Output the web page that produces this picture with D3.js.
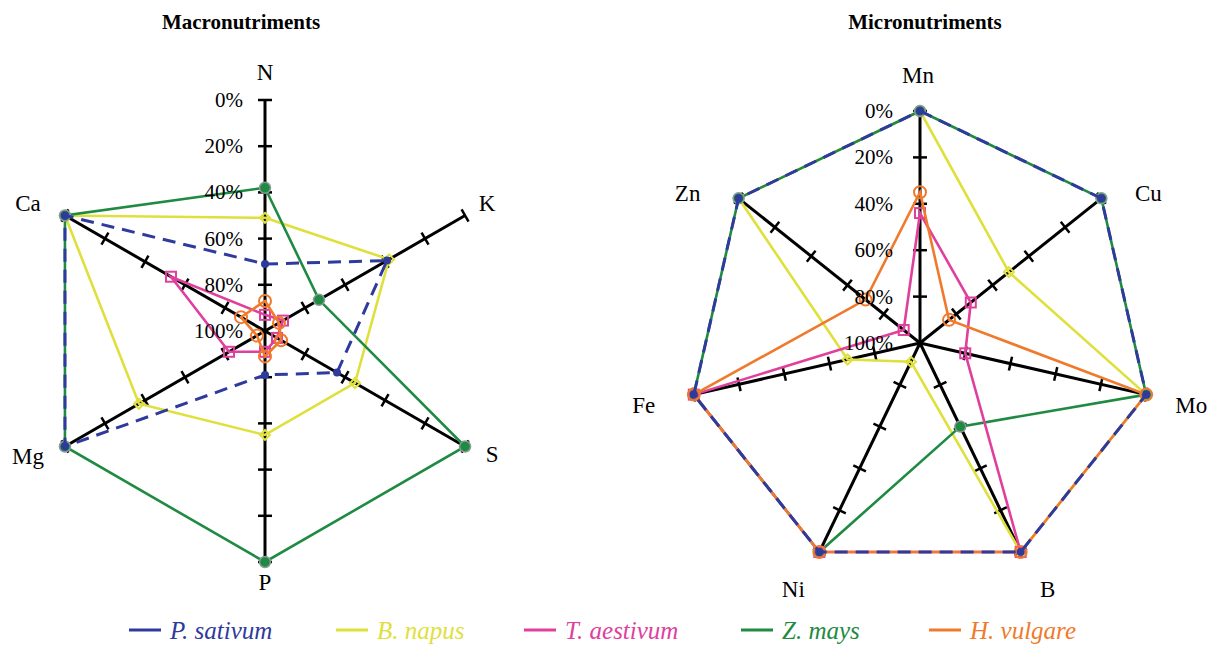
<!DOCTYPE html>
<html>
<head>
<meta charset="utf-8">
<script src="https://cdn.jsdelivr.net/npm/d3@7"></script>
<style>
    body { margin: 0; background: #fff; }
</style>
</head>
<body>
<svg id="chart" width="1215" height="662"></svg>
<script>

var macroAxes = ["N", "K", "S", "P", "Mg", "Ca"];
var microAxes = ["Mn", "Cu", "Mo", "B", "Ni", "Fe", "Zn"];
var tickLabels = ["0%", "20%", "40%", "60%", "80%", "100%"];
var tickValues = [0, 20, 40, 60, 80, 100];
var species = ["P. sativum", "B. napus", "T. aestivum", "Z. mays", "H. vulgare"];
var colors = ["#2e3a9c", "#dfe03c", "#e0409c", "#1f8a42", "#f07a2c"];

// values (0% = outer ring, 100% = centre)
var macroSativum  = [71, 39, 64, 81, 0, 0];
var macroNapus    = [51, 38, 55, 55, 37, 0];
var macroAestivum = [93, 91, 94, 91, 82, 53];
var macroMays     = [38, 73, 0, 0, 0, 0];
var macroVulgare  = [87, 93, 92, 89, 96, 88];

var microSativum  = [0, 0, 0, 0, 0, 0, 0];
var microNapus    = [0, 51, 0, 0, 91, 68, 0];
var microAestivum = [44, 72, 80, 0, 0, 0, 91];
var microMays     = [0, 0, 0, 60, 0, 0, 0];
var microVulgare  = [35, 84, 0, 0, 0, 0, 70];

var FONT = "Liberation Serif, Times New Roman, serif";

// order the series are painted in (dashed one last, on top)
var drawOrder = [1, 3, 2, 4, 0];

var svg = d3.select("#chart").attr("font-family", FONT);

function radar (opts) {

    var g = svg.append("g").attr("transform", "translate(" + opts.cx + "," + opts.cy + ")"),
        n = opts.axes.length,
        r = d3.scaleLinear().domain([0, 100]).range([opts.R, 0]),
        angle = d3.scaleLinear().domain([0, n]).range([0, 2 * Math.PI]);

    function pt (v, i) {
        var a = angle(i);
        return [Math.sin(a) * r(v), -Math.cos(a) * r(v)];
    }

    // axes
    g.selectAll("line.axis")
        .data(opts.axes)
        .enter()
        .append("line")
        .attr("class", "axis")
        .attr("x1", 0).attr("y1", 0)
        .attr("x2", function (d, i) { return pt(0, i)[0]; })
        .attr("y2", function (d, i) { return pt(0, i)[1]; })
        .attr("stroke", "#000")
        .attr("stroke-width", 3);

    // tick marks
    opts.axes.forEach(function (name, i) {
        var a = angle(i), px = Math.cos(a) * 7, py = Math.sin(a) * 7;
        g.selectAll(null)
            .data(tickValues.slice(0, 5))
            .enter()
            .append("line")
            .attr("x1", function (v) { return pt(v, i)[0] - px; })
            .attr("y1", function (v) { return pt(v, i)[1] - py; })
            .attr("x2", function (v) { return pt(v, i)[0] + px; })
            .attr("y2", function (v) { return pt(v, i)[1] + py; })
            .attr("stroke", "#000")
            .attr("stroke-width", 2.5);
    });

    // axis names
    g.selectAll("text.name")
        .data(opts.axes)
        .enter()
        .append("text")
        .attr("class", "name")
        .attr("x", function (d, i) { return pt(0, i)[0] + opts.labelShift[i][0]; })
        .attr("y", function (d, i) { return pt(0, i)[1] + opts.labelShift[i][1]; })
        .attr("text-anchor", "middle")
        .attr("dominant-baseline", "central")
        .attr("font-size", 23)
        .text(function (d) { return d; });

    // series
    drawOrder.forEach(function (s) {

        var values = opts.series[s],
            pts = values.map(pt),
            line = d3.line().curve(d3.curveLinearClosed),
            sg = g.append("g");

        sg.append("path")
            .attr("d", line(pts))
            .attr("fill", "none")
            .attr("stroke", colors[s])
            .attr("stroke-width", s === 0 ? 3 : 2.6)
            .attr("stroke-dasharray", s === 0 ? "13,8" : null);

        var m = sg.selectAll("g.mark")
            .data(pts)
            .enter()
            .append("g")
            .attr("transform", function (p) { return "translate(" + p[0] + "," + p[1] + ")"; });

        if(s === 0)
            m.append("circle").attr("r", 4).attr("fill", colors[s]);
        else if(s === 1)
            m.append("path").attr("d", "M0,-5L5,0L0,5L-5,0Z")
                .attr("fill", "none").attr("stroke", colors[s]).attr("stroke-width", 2);
        else if(s === 2)
            m.append("rect").attr("x", -5).attr("y", -5).attr("width", 10).attr("height", 10)
                .attr("fill", "none").attr("stroke", colors[s]).attr("stroke-width", 2);
        else if(s === 3)
            m.append("circle").attr("r", 5.5).attr("fill", colors[s])
                .attr("stroke", "#8a9a94").attr("stroke-width", 1.5);
        else
            m.append("circle").attr("r", 6)
                .attr("fill", "none").attr("stroke", colors[s]).attr("stroke-width", 2);
    });

    // tick labels on the first axis
    g.selectAll("text.tick")
        .data(tickLabels)
        .enter()
        .append("text")
        .attr("class", "tick")
        .attr("x", -opts.tickGap)
        .attr("y", function (d, i) { return -r(tickValues[i]); })
        .attr("text-anchor", "end")
        .attr("dominant-baseline", "central")
        .attr("font-size", 21)
        .text(function (d) { return d; });

    svg.append("text")
        .attr("x", opts.titleX)
        .attr("y", 22)
        .attr("text-anchor", "middle")
        .attr("dominant-baseline", "central")
        .attr("font-size", 21)
        .attr("font-weight", "bold")
        .text(opts.title);
}

radar({
    title: "Macronutriments", titleX: 241,
    cx: 265, cy: 331, R: 231, tickGap: 22,
    labelShift: [[0, -28], [22, -12], [27, 8], [0, 20], [-37, 10], [-37, -12]],
    axes: macroAxes,
    series: [macroSativum, macroNapus, macroAestivum, macroMays, macroVulgare]
});

radar({
    title: "Micronutriments", titleX: 925,
    cx: 920, cy: 343, R: 232, tickGap: 27,
    labelShift: [[-2, -36], [47, -5], [45, 11], [27, 37], [-26, 37], [-50, 11], [-51, -5]],
    axes: microAxes,
    series: [microSativum, microNapus, microAestivum, microMays, microVulgare]
});

// legend
var legendX = [129, 336, 524, 741, 929];

var lg = svg.selectAll("g.legend")
    .data(species)
    .enter()
    .append("g")
    .attr("class", "legend")
    .attr("transform", function (d, i) { return "translate(" + legendX[i] + ",630)"; });

lg.append("line")
    .attr("x1", 0).attr("x2", 32)
    .attr("stroke", function (d, i) { return colors[i]; })
    .attr("stroke-width", 3);

lg.append("text")
    .attr("x", 41)
    .attr("dominant-baseline", "central")
    .attr("font-size", 25)
    .attr("font-style", "italic")
    .attr("fill", function (d, i) { return colors[i]; })
    .text(function (d) { return d; });

</script>
</body>
</html>
